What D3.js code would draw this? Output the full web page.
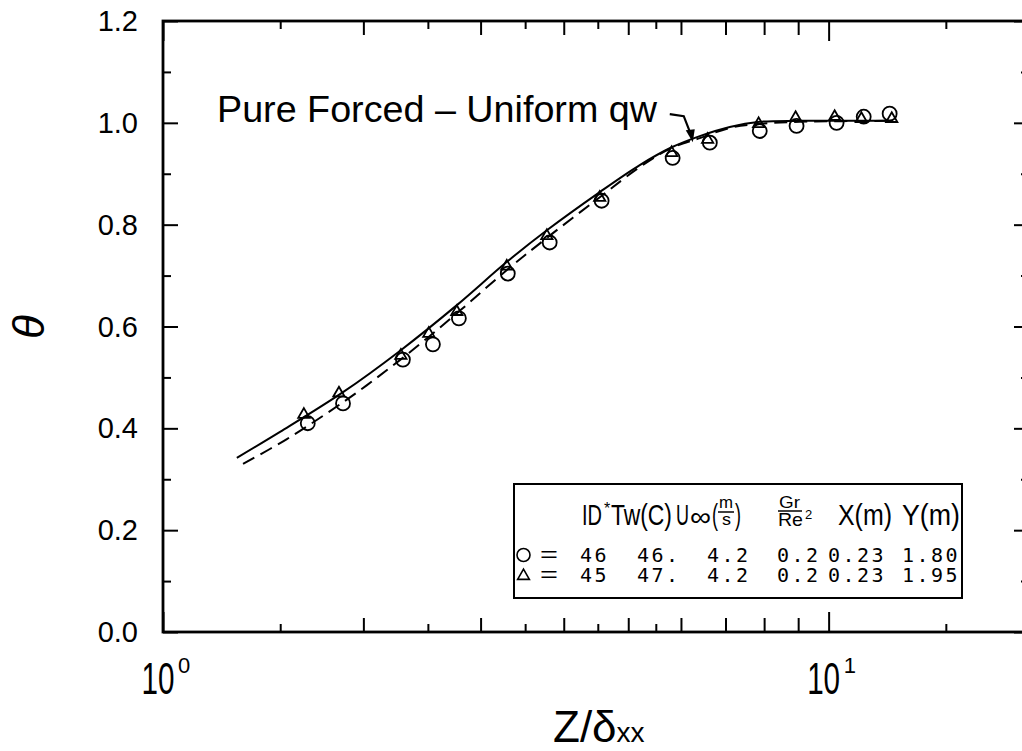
<!DOCTYPE html>
<html>
<head>
<meta charset="utf-8">
<script src="https://cdn.jsdelivr.net/npm/d3@7"></script>
<style>
  body { margin: 0; background: #fff; }
  svg { display: block; font-family: 'Liberation Sans', Arial, sans-serif; }
  .mono { font-family: 'DejaVu Sans Mono', monospace; }
</style>
</head>
<body>
<svg width="1022" height="751"></svg>
<script>
// measured points (ID 46 = circles, ID 45 = triangles)
const circleX = [1.65, 1.864, 2.293, 2.544, 2.783, 3.296, 3.81, 4.56, 5.83, 6.63, 7.88, 8.95, 10.28, 11.29, 12.35];
const circleY = [0.410, 0.449, 0.535, 0.565, 0.616, 0.704, 0.765, 0.847, 0.931, 0.961, 0.984, 0.994, 1.000, 1.012, 1.018];
const triX = [1.628, 1.838, 2.277, 2.508, 2.763, 3.285, 3.773, 4.53, 5.81, 6.58, 7.85, 8.92, 10.21, 11.2, 12.44];
const triY = [0.427, 0.469, 0.543, 0.586, 0.629, 0.718, 0.778, 0.853, 0.941, 0.967, 0.998, 1.010, 1.012, 1.008, 1.008];

// the two reference curves (solid and dashed)
const solidX = [1.291, 1.499, 1.864, 2.269, 2.764, 3.286, 3.773, 4.531, 5.203, 5.812, 6.403, 7.103, 7.879, 9.047, 12.48];
const solidY = [0.342, 0.393, 0.471, 0.552, 0.642, 0.727, 0.789, 0.864, 0.917, 0.952, 0.974, 0.992, 1.002, 1.004, 1.004];
const dashX = [1.319, 1.535, 1.877, 2.269, 2.764, 3.286, 3.773, 4.531, 5.203, 5.812, 6.403, 7.103, 7.879, 9.047, 12.48];
const dashY = [0.330, 0.379, 0.454, 0.534, 0.626, 0.711, 0.774, 0.854, 0.913, 0.951, 0.970, 0.990, 0.998, 1.002, 1.004];

// ticks
const yMajor = [0, 0.2, 0.4, 0.6, 0.8, 1.0, 1.2];
const yLabels = ['0.0', '0.2', '0.4', '0.6', '0.8', '1.0', '1.2'];
const yMinor = [0.1, 0.3, 0.5, 0.7, 0.9, 1.1];
const xDecades = [1, 10];
const xExp = ['0', '1'];
const xMid = [2, 3, 4, 5, 6, 7, 8, 9];
const xMinor = [1.5, 2.5, 3.5, 4.5, 5.5, 15];

// legend table
const rowId = ['46', '45'];
const rowTw = ['46.', '47.'];
const rowU = ['4.2', '4.2'];
const rowGr = ['0.2', '0.2'];
const rowXm = ['0.23', '0.23'];
const rowYm = ['1.80', '1.95'];

const pL = 163, pR = 1029, pT = 21, pB = 632;

const svg = d3.select('svg');

const x = d3.scaleLog().domain([1, 20]).range([pL, pR]);
const y = d3.scaleLinear().domain([0, 1.2]).range([pB, pT]);

function tickSet(axis, pos, vals, len) {
  svg.append('g')
    .attr('transform', pos)
    .call(axis.tickValues(vals).tickSize(len).tickFormat(''))
    .call(g => g.select('.domain').remove())
    .call(g => g.selectAll('line').attr('stroke', '#000').attr('stroke-width', 2));
}

// bottom + top ticks, pointing inward
tickSet(d3.axisTop(x), `translate(0,${pB})`, xDecades, 20);
tickSet(d3.axisTop(x), `translate(0,${pB})`, xMid, 14);
tickSet(d3.axisTop(x), `translate(0,${pB})`, xMinor, 8);
tickSet(d3.axisBottom(x), `translate(0,${pT})`, xDecades, 20);
tickSet(d3.axisBottom(x), `translate(0,${pT})`, xMid, 14);
tickSet(d3.axisBottom(x), `translate(0,${pT})`, xMinor, 8);
// left + right
tickSet(d3.axisRight(y), `translate(${pL},0)`, yMajor, 15);
tickSet(d3.axisRight(y), `translate(${pL},0)`, yMinor, 8);
tickSet(d3.axisLeft(y), `translate(${pR},0)`, yMajor, 15);
tickSet(d3.axisLeft(y), `translate(${pR},0)`, yMinor, 8);

svg.append('rect')
  .attr('x', pL).attr('y', pT)
  .attr('width', pR - pL).attr('height', pB - pT)
  .attr('fill', 'none').attr('stroke', '#000').attr('stroke-width', 2.8);

// y labels
svg.selectAll('.ylab')
  .data(yMajor)
  .enter().append('text')
  .attr('x', 138)
  .attr('y', d => y(d) + 10)
  .attr('text-anchor', 'end')
  .attr('font-size', 29)
  .text((d, i) => yLabels[i]);

// x labels 10^n
xDecades.forEach((d, i) => {
  svg.append('text')
    .attr('x', x(d) - 5).attr('y', 694)
    .attr('text-anchor', 'middle')
    .attr('font-size', 44)
    .attr('textLength', 33).attr('lengthAdjust', 'spacingAndGlyphs')
    .text('10');
  svg.append('text')
    .attr('x', x(d) + 15).attr('y', 673)
    .attr('font-size', 22)
    .text(xExp[i]);
});

// axis titles
svg.append('text')
  .attr('transform', 'translate(28,327) rotate(-90)')
  .attr('text-anchor', 'middle')
  .attr('dominant-baseline', 'central')
  .attr('font-size', 44)
  .attr('font-style', 'italic')
  .text('θ');

const xt = svg.append('text')
  .attr('x', 553).attr('y', 742)
  .attr('font-size', 44);
xt.append('tspan').text('Z/δ');
xt.append('tspan').attr('font-size', 28).text('xx');

// curves
const line = (xs, ys) => d3.line()
  .x((d, i) => x(xs[i]))
  .y((d, i) => y(ys[i]))
  .curve(d3.curveCatmullRom.alpha(0.5))(xs);

svg.append('path')
  .attr('d', line(solidX, solidY))
  .attr('fill', 'none').attr('stroke', '#000').attr('stroke-width', 2);

svg.append('path')
  .attr('d', line(dashX, dashY))
  .attr('fill', 'none').attr('stroke', '#000').attr('stroke-width', 2)
  .attr('stroke-dasharray', '13,7');

// markers
svg.selectAll('.circ')
  .data(circleX)
  .enter().append('circle')
  .attr('cx', d => x(d))
  .attr('cy', (d, i) => y(circleY[i]))
  .attr('r', 7)
  .attr('fill', 'none').attr('stroke', '#000').attr('stroke-width', 1.8);

const tri = d3.symbol().type(d3.symbolTriangle).size(55);
svg.selectAll('.tri')
  .data(triX)
  .enter().append('path')
  .attr('d', tri)
  .attr('transform', (d, i) => `translate(${x(d)},${y(triY[i])})`)
  .attr('fill', 'none').attr('stroke', '#000').attr('stroke-width', 1.8);

// annotation
svg.append('text')
  .attr('x', 217).attr('y', 122)
  .attr('font-size', 36)
  .attr('textLength', 440).attr('lengthAdjust', 'spacingAndGlyphs')
  .text('Pure Forced – Uniform qw');

const tipX = x(6.25), tipY = y(0.962);
svg.append('path')
  .attr('d', `M${tipX - 23},${tipY - 28} L${tipX - 9},${tipY - 26} L${tipX - 2},${tipY - 8}`)
  .attr('fill', 'none').attr('stroke', '#000').attr('stroke-width', 2.2);
svg.append('path')
  .attr('d', `M${tipX},${tipY} L${tipX - 7},${tipY - 12} L${tipX + 2},${tipY - 13} Z`)
  .attr('fill', '#000');

// legend box
const lg = svg.append('g');
lg.append('rect')
  .attr('x', 514).attr('y', 484).attr('width', 448).attr('height', 114)
  .attr('fill', '#fff').attr('stroke', '#000').attr('stroke-width', 2);

function lt(tx, ty, size, str, len) {
  const t = lg.append('text').attr('x', tx).attr('y', ty).attr('font-size', size).text(str);
  if (len) t.attr('textLength', len).attr('lengthAdjust', 'spacingAndGlyphs');
  return t;
}
// header
lt(582, 525, 29, 'ID', 20);
lt(604, 514, 16, '*');
lt(611, 525, 29, 'Tw(C)', 61);
lt(676, 525, 29, 'U', 13);
lt(690, 526, 27, '∞', 21);
lt(712, 525, 29, '(', 6);
lt(719, 508, 16, 'm', 14);
lg.append('line').attr('x1', 718).attr('x2', 734).attr('y1', 512).attr('y2', 512)
  .attr('stroke', '#000').attr('stroke-width', 1.5);
lt(722, 525, 17, 's', 9);
lt(735, 525, 29, ')', 6);
lt(779, 508, 17, 'Gr', 21);
lg.append('line').attr('x1', 778).attr('x2', 802).attr('y1', 511).attr('y2', 511)
  .attr('stroke', '#000').attr('stroke-width', 1.5);
lt(778, 526, 19, 'Re', 25);
lt(805, 519, 13, '2');
lt(838, 525, 29, 'X(m)', 54);
lt(902, 525, 29, 'Y(m)', 58);

// rows
const rowBase = [562, 582];
lg.append('circle').attr('cx', 523.5).attr('cy', 555).attr('r', 6.5)
  .attr('fill', 'none').attr('stroke', '#000').attr('stroke-width', 1.6);
lg.append('path').attr('d', d3.symbol().type(d3.symbolTriangle).size(60))
  .attr('transform', 'translate(523.5,576)')
  .attr('fill', 'none').attr('stroke', '#000').attr('stroke-width', 1.6);

const cols = [
  { x: 580, v: rowId },
  { x: 637, v: rowTw },
  { x: 707, v: rowU },
  { x: 777, v: rowGr },
  { x: 828, v: rowXm },
  { x: 902, v: rowYm }
];
rowBase.forEach((b, i) => {
  lt(540, b, 22, '=', 18);
  cols.forEach(c => {
    lg.append('text')
      .attr('class', 'mono')
      .attr('x', c.x).attr('y', b)
      .attr('font-size', 20)
      .attr('letter-spacing', 2.5)
      .text(c.v[i]);
  });
});
</script>
</body>
</html>
